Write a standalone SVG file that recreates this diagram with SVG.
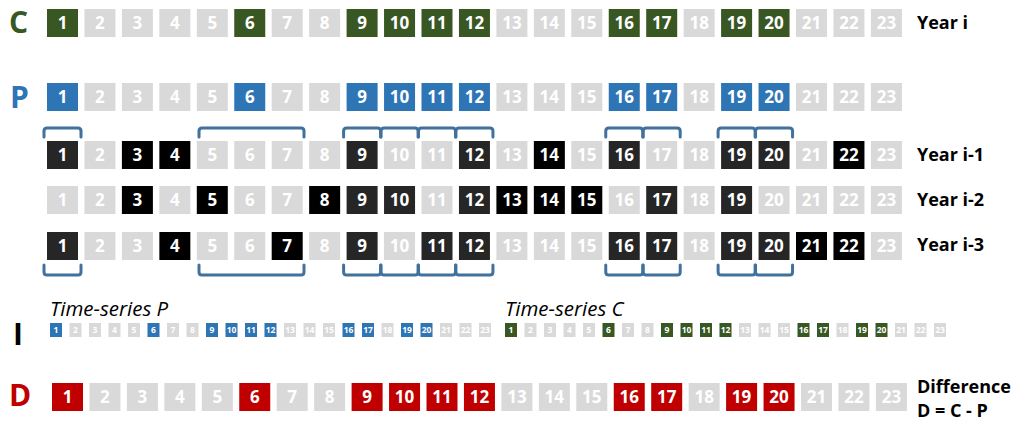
<svg xmlns="http://www.w3.org/2000/svg" width="1013" height="421" viewBox="0 0 1013 421">
<style>
rect{stroke:none}
.g{fill:#D9D9D9}.c{fill:#385723}.p{fill:#2E75B6}.k{fill:#000000}.d{fill:#262626}.r{fill:#C00000}
text{font-family:"Open Sans","Liberation Sans",sans-serif;font-weight:bold}
.nt text{fill:#fff;font-size:17px;text-anchor:middle}
.snt text{fill:#fff;font-size:8.5px;text-anchor:middle}
.lab{font-size:18px;fill:#000}
.big{font-size:30px}
.ts{font-weight:normal;font-style:italic;font-size:20.5px;fill:#000}
.br{fill:none;stroke:#41719C;stroke-width:3;stroke-linejoin:round;stroke-linecap:round}
</style>
<defs>
<g id="nums" class="nt">
<text x="62.5" y="20.2">1</text><text x="99.95" y="20.2">2</text><text x="137.4" y="20.2">3</text><text x="174.85" y="20.2">4</text><text x="212.3" y="20.2">5</text><text x="249.75" y="20.2">6</text><text x="287.2" y="20.2">7</text><text x="324.65" y="20.2">8</text><text x="362.1" y="20.2">9</text><text x="399.55" y="20.2">10</text><text x="437" y="20.2">11</text><text x="474.45" y="20.2">12</text><text x="511.9" y="20.2">13</text><text x="549.35" y="20.2">14</text><text x="586.8" y="20.2">15</text><text x="624.25" y="20.2">16</text><text x="661.7" y="20.2">17</text><text x="699.15" y="20.2">18</text><text x="736.6" y="20.2">19</text><text x="774.05" y="20.2">20</text><text x="811.5" y="20.2">21</text><text x="848.95" y="20.2">22</text><text x="886.4" y="20.2">23</text>
</g>
<g id="snums" class="snt">
<text x="56" y="10.2">1</text><text x="75.5" y="10.2">2</text><text x="95" y="10.2">3</text><text x="114.5" y="10.2">4</text><text x="134" y="10.2">5</text><text x="153.5" y="10.2">6</text><text x="173" y="10.2">7</text><text x="192.5" y="10.2">8</text><text x="212" y="10.2">9</text><text x="231.5" y="10.2">10</text><text x="251" y="10.2">11</text><text x="270.5" y="10.2">12</text><text x="290" y="10.2">13</text><text x="309.5" y="10.2">14</text><text x="329" y="10.2">15</text><text x="348.5" y="10.2">16</text><text x="368" y="10.2">17</text><text x="387.5" y="10.2">18</text><text x="407" y="10.2">19</text><text x="426.5" y="10.2">20</text><text x="446" y="10.2">21</text><text x="465.5" y="10.2">22</text><text x="485" y="10.2">23</text>
</g>
</defs>

<!-- Labels -->
<g id="labels">
<text class="big" x="9" y="33" fill="#385723">C</text>
<text class="big" x="10" y="108" fill="#2E75B6">P</text>
<text class="big" x="13" y="345" fill="#000">I</text>
<text class="big" x="9" y="406" fill="#C00000">D</text>
<text class="lab" x="917" y="29">Year i</text>
<text class="lab" x="917" y="161">Year i-1</text>
<text class="lab" x="917" y="206">Year i-2</text>
<text class="lab" x="917" y="251">Year i-3</text>
<text class="lab" x="917" y="393">Difference</text>
<text class="lab" x="917" y="417">D = C - P</text>
<text class="ts" x="50" y="316">Time-series P</text>
<text class="ts" x="505" y="316">Time-series C</text>
</g>

<!-- Row C -->
<g id="rowC" transform="translate(0,9)">
<rect class="c" x="47" y="0" width="31" height="28"/><rect class="g" x="84.45" y="0" width="31" height="28"/><rect class="g" x="121.9" y="0" width="31" height="28"/><rect class="g" x="159.35" y="0" width="31" height="28"/><rect class="g" x="196.8" y="0" width="31" height="28"/><rect class="c" x="234.25" y="0" width="31" height="28"/><rect class="g" x="271.7" y="0" width="31" height="28"/><rect class="g" x="309.15" y="0" width="31" height="28"/><rect class="c" x="346.6" y="0" width="31" height="28"/><rect class="c" x="384.05" y="0" width="31" height="28"/><rect class="c" x="421.5" y="0" width="31" height="28"/><rect class="c" x="458.95" y="0" width="31" height="28"/><rect class="g" x="496.4" y="0" width="31" height="28"/><rect class="g" x="533.85" y="0" width="31" height="28"/><rect class="g" x="571.3" y="0" width="31" height="28"/><rect class="c" x="608.75" y="0" width="31" height="28"/><rect class="c" x="646.2" y="0" width="31" height="28"/><rect class="g" x="683.65" y="0" width="31" height="28"/><rect class="c" x="721.1" y="0" width="31" height="28"/><rect class="c" x="758.55" y="0" width="31" height="28"/><rect class="g" x="796" y="0" width="31" height="28"/><rect class="g" x="833.45" y="0" width="31" height="28"/><rect class="g" x="870.9" y="0" width="31" height="28"/>
<use href="#nums"/>
</g>

<!-- Row P -->
<g id="rowP" transform="translate(0,83)">
<rect class="p" x="47" y="0" width="31" height="28"/><rect class="g" x="84.45" y="0" width="31" height="28"/><rect class="g" x="121.9" y="0" width="31" height="28"/><rect class="g" x="159.35" y="0" width="31" height="28"/><rect class="g" x="196.8" y="0" width="31" height="28"/><rect class="p" x="234.25" y="0" width="31" height="28"/><rect class="g" x="271.7" y="0" width="31" height="28"/><rect class="g" x="309.15" y="0" width="31" height="28"/><rect class="p" x="346.6" y="0" width="31" height="28"/><rect class="p" x="384.05" y="0" width="31" height="28"/><rect class="p" x="421.5" y="0" width="31" height="28"/><rect class="p" x="458.95" y="0" width="31" height="28"/><rect class="g" x="496.4" y="0" width="31" height="28"/><rect class="g" x="533.85" y="0" width="31" height="28"/><rect class="g" x="571.3" y="0" width="31" height="28"/><rect class="p" x="608.75" y="0" width="31" height="28"/><rect class="p" x="646.2" y="0" width="31" height="28"/><rect class="g" x="683.65" y="0" width="31" height="28"/><rect class="p" x="721.1" y="0" width="31" height="28"/><rect class="p" x="758.55" y="0" width="31" height="28"/><rect class="g" x="796" y="0" width="31" height="28"/><rect class="g" x="833.45" y="0" width="31" height="28"/><rect class="g" x="870.9" y="0" width="31" height="28"/>
<use href="#nums"/>
</g>

<!-- Row i-1 -->
<g id="rowY1" transform="translate(0,141)">
<rect class="d" x="47" y="0" width="31" height="28"/><rect class="g" x="84.45" y="0" width="31" height="28"/><rect class="k" x="121.9" y="0" width="31" height="28"/><rect class="k" x="159.35" y="0" width="31" height="28"/><rect class="g" x="196.8" y="0" width="31" height="28"/><rect class="g" x="234.25" y="0" width="31" height="28"/><rect class="g" x="271.7" y="0" width="31" height="28"/><rect class="g" x="309.15" y="0" width="31" height="28"/><rect class="d" x="346.6" y="0" width="31" height="28"/><rect class="g" x="384.05" y="0" width="31" height="28"/><rect class="g" x="421.5" y="0" width="31" height="28"/><rect class="d" x="458.95" y="0" width="31" height="28"/><rect class="g" x="496.4" y="0" width="31" height="28"/><rect class="k" x="533.85" y="0" width="31" height="28"/><rect class="g" x="571.3" y="0" width="31" height="28"/><rect class="d" x="608.75" y="0" width="31" height="28"/><rect class="g" x="646.2" y="0" width="31" height="28"/><rect class="g" x="683.65" y="0" width="31" height="28"/><rect class="d" x="721.1" y="0" width="31" height="28"/><rect class="d" x="758.55" y="0" width="31" height="28"/><rect class="g" x="796" y="0" width="31" height="28"/><rect class="k" x="833.45" y="0" width="31" height="28"/><rect class="g" x="870.9" y="0" width="31" height="28"/>
<use href="#nums"/>
</g>

<!-- Row i-2 -->
<g id="rowY2" transform="translate(0,186)">
<rect class="g" x="47" y="0" width="31" height="28"/><rect class="g" x="84.45" y="0" width="31" height="28"/><rect class="k" x="121.9" y="0" width="31" height="28"/><rect class="g" x="159.35" y="0" width="31" height="28"/><rect class="k" x="196.8" y="0" width="31" height="28"/><rect class="g" x="234.25" y="0" width="31" height="28"/><rect class="g" x="271.7" y="0" width="31" height="28"/><rect class="k" x="309.15" y="0" width="31" height="28"/><rect class="d" x="346.6" y="0" width="31" height="28"/><rect class="d" x="384.05" y="0" width="31" height="28"/><rect class="g" x="421.5" y="0" width="31" height="28"/><rect class="d" x="458.95" y="0" width="31" height="28"/><rect class="k" x="496.4" y="0" width="31" height="28"/><rect class="k" x="533.85" y="0" width="31" height="28"/><rect class="k" x="571.3" y="0" width="31" height="28"/><rect class="g" x="608.75" y="0" width="31" height="28"/><rect class="d" x="646.2" y="0" width="31" height="28"/><rect class="g" x="683.65" y="0" width="31" height="28"/><rect class="d" x="721.1" y="0" width="31" height="28"/><rect class="g" x="758.55" y="0" width="31" height="28"/><rect class="g" x="796" y="0" width="31" height="28"/><rect class="g" x="833.45" y="0" width="31" height="28"/><rect class="g" x="870.9" y="0" width="31" height="28"/>
<use href="#nums"/>
</g>

<!-- Row i-3 -->
<g id="rowY3" transform="translate(0,232)">
<rect class="d" x="47" y="0" width="31" height="28"/><rect class="g" x="84.45" y="0" width="31" height="28"/><rect class="g" x="121.9" y="0" width="31" height="28"/><rect class="k" x="159.35" y="0" width="31" height="28"/><rect class="g" x="196.8" y="0" width="31" height="28"/><rect class="g" x="234.25" y="0" width="31" height="28"/><rect class="k" x="271.7" y="0" width="31" height="28"/><rect class="g" x="309.15" y="0" width="31" height="28"/><rect class="d" x="346.6" y="0" width="31" height="28"/><rect class="g" x="384.05" y="0" width="31" height="28"/><rect class="d" x="421.5" y="0" width="31" height="28"/><rect class="d" x="458.95" y="0" width="31" height="28"/><rect class="g" x="496.4" y="0" width="31" height="28"/><rect class="g" x="533.85" y="0" width="31" height="28"/><rect class="g" x="571.3" y="0" width="31" height="28"/><rect class="d" x="608.75" y="0" width="31" height="28"/><rect class="d" x="646.2" y="0" width="31" height="28"/><rect class="g" x="683.65" y="0" width="31" height="28"/><rect class="d" x="721.1" y="0" width="31" height="28"/><rect class="d" x="758.55" y="0" width="31" height="28"/><rect class="k" x="796" y="0" width="31" height="28"/><rect class="k" x="833.45" y="0" width="31" height="28"/><rect class="g" x="870.9" y="0" width="31" height="28"/>
<use href="#nums"/>
</g>

<!-- Row D -->
<g id="rowD" transform="translate(5,383)">
<rect class="r" x="47" y="0" width="31" height="28"/><rect class="g" x="84.45" y="0" width="31" height="28"/><rect class="g" x="121.9" y="0" width="31" height="28"/><rect class="g" x="159.35" y="0" width="31" height="28"/><rect class="g" x="196.8" y="0" width="31" height="28"/><rect class="r" x="234.25" y="0" width="31" height="28"/><rect class="g" x="271.7" y="0" width="31" height="28"/><rect class="g" x="309.15" y="0" width="31" height="28"/><rect class="r" x="346.6" y="0" width="31" height="28"/><rect class="r" x="384.05" y="0" width="31" height="28"/><rect class="r" x="421.5" y="0" width="31" height="28"/><rect class="r" x="458.95" y="0" width="31" height="28"/><rect class="g" x="496.4" y="0" width="31" height="28"/><rect class="g" x="533.85" y="0" width="31" height="28"/><rect class="g" x="571.3" y="0" width="31" height="28"/><rect class="r" x="608.75" y="0" width="31" height="28"/><rect class="r" x="646.2" y="0" width="31" height="28"/><rect class="g" x="683.65" y="0" width="31" height="28"/><rect class="r" x="721.1" y="0" width="31" height="28"/><rect class="r" x="758.55" y="0" width="31" height="28"/><rect class="g" x="796" y="0" width="31" height="28"/><rect class="g" x="833.45" y="0" width="31" height="28"/><rect class="g" x="870.9" y="0" width="31" height="28"/>
<use href="#nums"/>
</g>

<!-- Small series P -->
<g id="seriesP" transform="translate(0,323)">
<rect class="p" x="50" y="0" width="12" height="14"/><rect class="g" x="69.5" y="0" width="12" height="14"/><rect class="g" x="89" y="0" width="12" height="14"/><rect class="g" x="108.5" y="0" width="12" height="14"/><rect class="g" x="128" y="0" width="12" height="14"/><rect class="p" x="147.5" y="0" width="12" height="14"/><rect class="g" x="167" y="0" width="12" height="14"/><rect class="g" x="186.5" y="0" width="12" height="14"/><rect class="p" x="206" y="0" width="12" height="14"/><rect class="p" x="225.5" y="0" width="12" height="14"/><rect class="p" x="245" y="0" width="12" height="14"/><rect class="p" x="264.5" y="0" width="12" height="14"/><rect class="g" x="284" y="0" width="12" height="14"/><rect class="g" x="303.5" y="0" width="12" height="14"/><rect class="g" x="323" y="0" width="12" height="14"/><rect class="p" x="342.5" y="0" width="12" height="14"/><rect class="p" x="362" y="0" width="12" height="14"/><rect class="g" x="381.5" y="0" width="12" height="14"/><rect class="p" x="401" y="0" width="12" height="14"/><rect class="p" x="420.5" y="0" width="12" height="14"/><rect class="g" x="440" y="0" width="12" height="14"/><rect class="g" x="459.5" y="0" width="12" height="14"/><rect class="g" x="479" y="0" width="12" height="14"/>
<use href="#snums"/>
</g>

<!-- Small series C -->
<g id="seriesC" transform="translate(455,323)">
<rect class="c" x="50" y="0" width="12" height="14"/><rect class="g" x="69.5" y="0" width="12" height="14"/><rect class="g" x="89" y="0" width="12" height="14"/><rect class="g" x="108.5" y="0" width="12" height="14"/><rect class="g" x="128" y="0" width="12" height="14"/><rect class="c" x="147.5" y="0" width="12" height="14"/><rect class="g" x="167" y="0" width="12" height="14"/><rect class="g" x="186.5" y="0" width="12" height="14"/><rect class="c" x="206" y="0" width="12" height="14"/><rect class="c" x="225.5" y="0" width="12" height="14"/><rect class="c" x="245" y="0" width="12" height="14"/><rect class="c" x="264.5" y="0" width="12" height="14"/><rect class="g" x="284" y="0" width="12" height="14"/><rect class="g" x="303.5" y="0" width="12" height="14"/><rect class="g" x="323" y="0" width="12" height="14"/><rect class="c" x="342.5" y="0" width="12" height="14"/><rect class="c" x="362" y="0" width="12" height="14"/><rect class="g" x="381.5" y="0" width="12" height="14"/><rect class="c" x="401" y="0" width="12" height="14"/><rect class="c" x="420.5" y="0" width="12" height="14"/><rect class="g" x="440" y="0" width="12" height="14"/><rect class="g" x="459.5" y="0" width="12" height="14"/><rect class="g" x="479" y="0" width="12" height="14"/>
<use href="#snums"/>
</g>

<!-- Brackets -->
<g id="connectors" class="br">
<path d="M44,137 V131 Q44,128 47,128 H78 Q81,128 81,131 V137"/>
<path d="M199,137 V131 Q199,128 202,128 H301 Q304,128 304,131 V137"/>
<path d="M343.6,137 V131 Q343.6,128 346.6,128 H377.6 Q380.6,128 380.6,131 V137"/>
<path d="M381.05,137 V131 Q381.05,128 384.05,128 H415.05 Q418.05,128 418.05,131 V137"/>
<path d="M418.5,137 V131 Q418.5,128 421.5,128 H452.5 Q455.5,128 455.5,131 V137"/>
<path d="M455.95,137 V131 Q455.95,128 458.95,128 H489.95 Q492.95,128 492.95,131 V137"/>
<path d="M605.75,137 V131 Q605.75,128 608.75,128 H639.75 Q642.75,128 642.75,131 V137"/>
<path d="M643.2,137 V131 Q643.2,128 646.2,128 H677.2 Q680.2,128 680.2,131 V137"/>
<path d="M718.1,137 V131 Q718.1,128 721.1,128 H752.1 Q755.1,128 755.1,131 V137"/>
<path d="M755.55,137 V131 Q755.55,128 758.55,128 H789.55 Q792.55,128 792.55,131 V137"/>
<path d="M44,265 V272 Q44,275 47,275 H78 Q81,275 81,272 V265"/>
<path d="M199,265 V272 Q199,275 202,275 H301 Q304,275 304,272 V265"/>
<path d="M343.6,265 V272 Q343.6,275 346.6,275 H377.6 Q380.6,275 380.6,272 V265"/>
<path d="M381.05,265 V272 Q381.05,275 384.05,275 H415.05 Q418.05,275 418.05,272 V265"/>
<path d="M418.5,265 V272 Q418.5,275 421.5,275 H452.5 Q455.5,275 455.5,272 V265"/>
<path d="M455.95,265 V272 Q455.95,275 458.95,275 H489.95 Q492.95,275 492.95,272 V265"/>
<path d="M605.75,265 V272 Q605.75,275 608.75,275 H639.75 Q642.75,275 642.75,272 V265"/>
<path d="M643.2,265 V272 Q643.2,275 646.2,275 H677.2 Q680.2,275 680.2,272 V265"/>
<path d="M718.1,265 V272 Q718.1,275 721.1,275 H752.1 Q755.1,275 755.1,272 V265"/>
<path d="M755.55,265 V272 Q755.55,275 758.55,275 H789.55 Q792.55,275 792.55,272 V265"/>
</g>
</svg>
